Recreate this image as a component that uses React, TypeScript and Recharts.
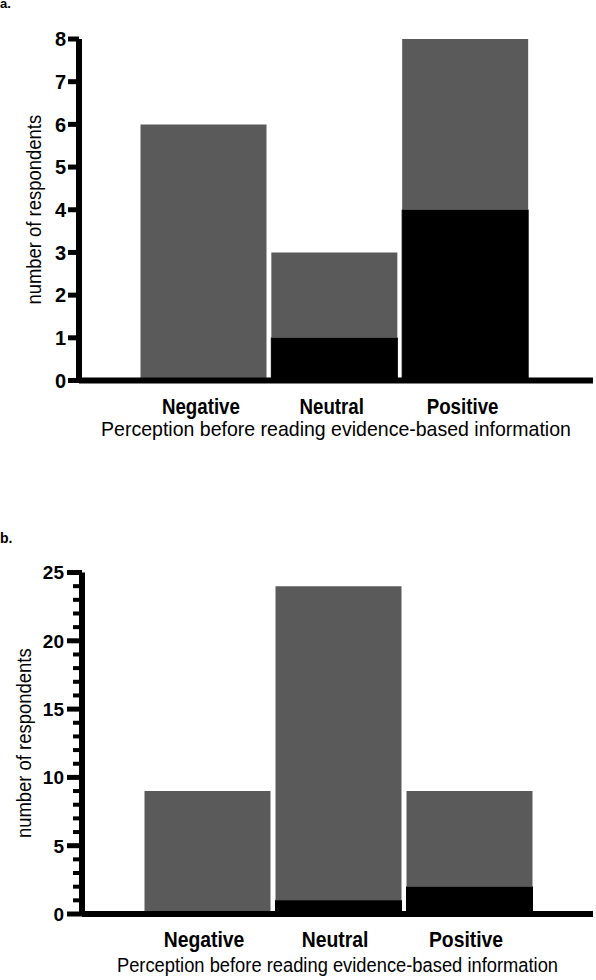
import React from 'react'
import { BarChart, Bar, XAxis, YAxis, Label } from 'recharts'

const categories = ['Negative', 'Neutral', 'Positive']

// panel a: black = lower segment, grey = upper segment of each stack
const blackA = [0, 1, 4]
const greyA = [6, 2, 4]
const ticksA = [0, 1, 2, 3, 4, 5, 6, 7, 8]
const majorA = [0, 1, 2, 3, 4, 5, 6, 7, 8]

// panel b
const blackB = [0, 1, 2]
const greyB = [9, 23, 7]
const ticksB = [0, 1, 2, 3, 4, 5, 6, 7, 8, 9, 10, 11, 12, 13, 14, 15, 16, 17, 18, 19, 20, 21, 22, 23, 24, 25]
const majorB = [0, 5, 10, 15, 20, 25]

const xTitle = 'Perception before reading evidence-based information'
const yTitle = 'number of respondents'

const FONT = "'Liberation Sans', Arial, Helvetica, sans-serif"
const GREY = '#5a5a5a'

type PanelCfg = {
  black: number[]
  grey: number[]
  ticks: number[]
  majors: number[]
  height: number
  top: number
  xAxisHeight: number
  yAxisWidth: number
  padLeft: number
  padRight: number
  majorLen: number
  minorLen: number
  tickGap: number
  tickFont: number
  catScale: number
  titleScale: number
  titleBase: number
  yTitleX: number
}

function YTick(props: any) {
  const { x, y, payload, cfg } = props
  const v = payload.value
  const major = cfg.majors.includes(v)
  const len = major ? cfg.majorLen : cfg.minorLen
  return (
    <g>
      <line x1={x - len} x2={x} y1={y} y2={y} stroke="#000" strokeWidth={major ? 5 : 4} />
      {major && (
        <text
          x={x - cfg.majorLen - cfg.tickGap}
          y={y + cfg.tickFont * 0.36}
          textAnchor="end"
          fontFamily={FONT}
          fontWeight="bold"
          fontSize={cfg.tickFont}
          fill="#000"
        >
          {v}
        </text>
      )}
    </g>
  )
}

function XTick(props: any) {
  const { x, y, payload, cfg } = props
  return (
    <text
      transform={`translate(${x - 3},${y + 33}) scale(${cfg.catScale},1)`}
      textAnchor="middle"
      fontFamily={FONT}
      fontWeight="bold"
      fontSize={21.5}
      fill="#000"
    >
      {payload.value}
    </text>
  )
}

function Panel({ cfg }: { cfg: PanelCfg }) {
  const data = categories.map((c, i) => ({ name: c, black: cfg.black[i], grey: cfg.grey[i] }))
  const max = cfg.ticks[cfg.ticks.length - 1]
  return (
    <BarChart
      width={596}
      height={cfg.height}
      data={data}
      margin={{ top: cfg.top, right: 3, bottom: 0, left: 0 }}
    >
      <Bar dataKey="black" stackId="s" fill="#000" stroke="#000" strokeWidth={1} barSize={126} isAnimationActive={false} />
      <Bar dataKey="grey" stackId="s" fill={GREY} barSize={126} isAnimationActive={false} />
      <YAxis
        type="number"
        domain={[0, max]}
        ticks={cfg.ticks}
        interval={0}
        width={cfg.yAxisWidth}
        axisLine={{ stroke: '#000', strokeWidth: 6 }}
        tickLine={false}
        tickSize={0}
        tickMargin={0}
        tick={(p: any) => <YTick {...p} cfg={cfg} />}
      >
        <Label
          content={(p: any) => {
            const vb = p.viewBox
            const cy = vb.y + vb.height / 2
            return (
              <text
                transform={`translate(${cfg.yTitleX},${cy}) rotate(-90) scale(0.9,1)`}
                textAnchor="middle"
                fontFamily={FONT}
                fontSize={20.5}
                fill="#000"
              >
                {yTitle}
              </text>
            )
          }}
        />
      </YAxis>
      <XAxis
        dataKey="name"
        height={cfg.xAxisHeight}
        padding={{ left: cfg.padLeft, right: cfg.padRight }}
        axisLine={{ stroke: '#000', strokeWidth: 6 }}
        tickLine={false}
        tickSize={0}
        tickMargin={0}
        interval={0}
        tick={(p: any) => <XTick {...p} cfg={cfg} />}
      >
        <Label
          content={(p: any) => {
            const vb = p.viewBox
            return (
              <text
                transform={`translate(${vb.x + vb.width / 2},${vb.y + cfg.titleBase}) scale(${cfg.titleScale},1)`}
                textAnchor="middle"
                fontFamily={FONT}
                fontSize={21}
                fill="#000"
              >
                {xTitle}
              </text>
            )
          }}
        />
      </XAxis>
    </BarChart>
  )
}

const cfgA: PanelCfg = {
  black: blackA,
  grey: greyA,
  ticks: ticksA,
  majors: majorA,
  height: 470,
  top: 39,
  xAxisHeight: 89.5,
  yAxisWidth: 79,
  padLeft: 59.5,
  padRight: 62,
  majorLen: 11,
  minorLen: 11,
  tickGap: 2,
  tickFont: 20,
  catScale: 0.87,
  titleScale: 0.93,
  titleBase: 55.5,
  yTitleX: 41,
}

const cfgB: PanelCfg = {
  black: blackB,
  grey: greyB,
  ticks: ticksB,
  majors: majorB,
  height: 500,
  top: 92.5,
  xAxisHeight: 66,
  yAxisWidth: 82,
  padLeft: 59.5,
  padRight: 58.5,
  majorLen: 15,
  minorLen: 9,
  tickGap: 3,
  tickFont: 19,
  catScale: 0.9,
  titleScale: 0.873,
  titleBase: 58,
  yTitleX: 31,
}

export default function App() {
  return (
    <div style={{ position: 'absolute', left: 0, top: 0, width: 596, height: 980, background: '#fff' }}>
      <svg width={596} height={980} style={{ position: 'absolute', left: 0, top: 0 }}>
        <text x={0} y={8} fontFamily={FONT} fontWeight="bold" fontSize={13} fill="#000">a.</text>
        <text x={0} y={543} fontFamily={FONT} fontWeight="bold" fontSize={14} fill="#000">b.</text>
      </svg>
      <div style={{ position: 'absolute', left: 0, top: 0 }}>
        <Panel cfg={cfgA} />
      </div>
      <div style={{ position: 'absolute', left: 0, top: 480 }}>
        <Panel cfg={cfgB} />
      </div>
    </div>
  )
}
